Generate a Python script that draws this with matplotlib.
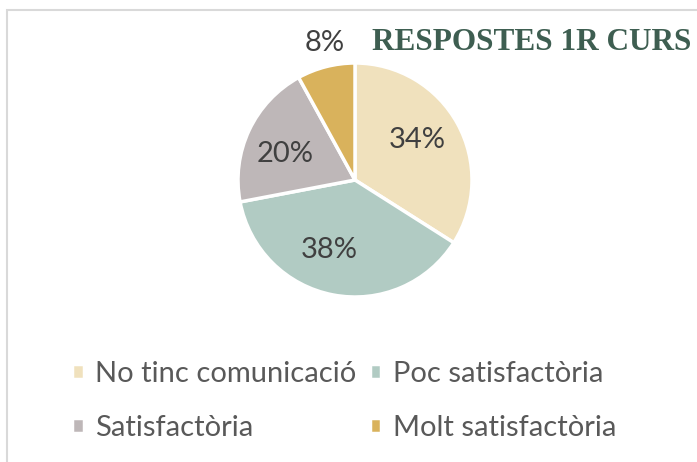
import matplotlib.pyplot as plt
from matplotlib.patches import Rectangle

# Dades
labels = ["No tinc comunicació", "Poc satisfactòria", "Satisfactòria", "Molt satisfactòria"]
values = [34, 38, 20, 8]
colors = ["#F0E1BD", "#B1CBC3", "#BEB7B8", "#D9B25C"]
title = "RESPOSTES 1R CURS"

W, H = 697, 462
fig = plt.figure(figsize=(W / 100, H / 100), dpi=100)

# marc gris (només es veu a dalt i a l'esquerra)
fig.patches.append(Rectangle((7 / W, -0.1), 1.2, (452 / H) + 0.1, transform=fig.transFigure,
                             fill=False, edgecolor="#D9D9D9", linewidth=1.5))

# pastís: centre (355,180), radi ~117 px
r = 117
ax = fig.add_axes([(355 - r) / W, (H - 180 - r) / H, 2 * r / W, 2 * r / H])
wedges, texts = ax.pie(values, colors=colors, startangle=90, counterclock=False,
                       radius=1.0, wedgeprops=dict(edgecolor="white", linewidth=2.5),
                       labels=[f"{v}%" for v in values], labeldistance=None)
ax.set_xlim(-1, 1)
ax.set_ylim(-1, 1)
ax.set_aspect("equal")
ax.axis("off")

# etiquetes de percentatge
lab_pos = [(0.53, 0.34), (-0.22, -0.6), (-0.6, 0.22), (-0.26, 1.17)]
for v, (x, y) in zip(values, lab_pos):
    ax.text(x, y, f"{v}%", ha="center", va="center", fontsize=21, color="#404040",
            family="Lato", clip_on=False)

fig.text(372 / W, 1 - 43 / H, title, ha="left", va="center", fontsize=22.5,
         fontweight="bold", family="Liberation Serif", color="#3E5E51")

# llegenda per files
order = [0, 2, 1, 3]
leg = fig.legend([wedges[i] for i in order], [labels[i] for i in order], ncol=2,
                 loc="upper left", bbox_to_anchor=(72 / W, 1 - 361 / H), frameon=False,
                 prop=dict(family="Lato", size=21), labelcolor="#595959", borderpad=0,
                 borderaxespad=0, handlelength=0.4, handleheight=0.4, handletextpad=0.4,
                 columnspacing=0.45, labelspacing=0.95)

fig.savefig("out.png", dpi=100)
